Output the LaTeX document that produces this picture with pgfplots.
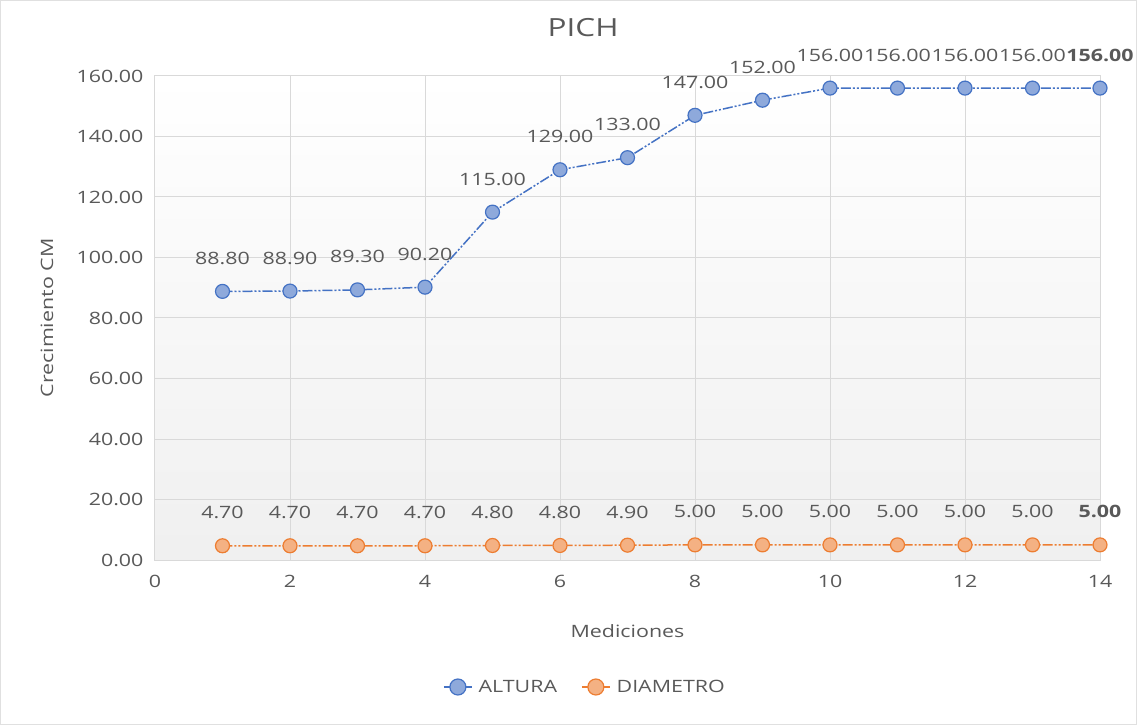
\documentclass[border=0pt]{standalone}
\usepackage{pgfplots}
\pgfplotsset{compat=1.18}
\usepackage{fontspec}
\setmainfont[FakeStretch=1.26]{Open Sans}
\definecolor{tgray}{HTML}{595959}
\definecolor{blu}{HTML}{4472C4}
\definecolor{bluf}{HTML}{8EA9DB}
\definecolor{ora}{HTML}{ED7D31}
\definecolor{oraf}{HTML}{F4B183}
\definecolor{gridc}{HTML}{D9D9D9}
\begin{document}
\begin{tikzpicture}
\begin{axis}[
  at={(0,0)}, anchor=south west,
  scale only axis, width=945pt, height=484pt,
  xmin=0, xmax=14, ymin=0, ymax=160,
  xtick={0,2,...,14}, ytick={0,20,...,160},
  grid=major, major grid style={draw=gridc, line width=1pt},
  axis line style={draw=gridc, line width=1pt},
  major tick length=0pt, tick style={draw=none},
  axis background/.style={shade, top color=white, bottom color=black!6},
  font=\fontsize{17}{20}\selectfont,
  every tick label/.append style={text=tgray},
  xticklabel style={yshift=-12pt},
  yticklabel style={xshift=-8pt, /pgf/number format/.cd, fixed, fixed zerofill, precision=2},
  /pgf/number format/assume math mode=true,
  xticklabel={\pgfmathprintnumber[assume math mode=true]{\tick}},
  title={PICH},
  title style={at={(axis description cs:0.453,1.088)}, anchor=center, text=tgray, font=\fontsize{25}{28}\selectfont},
  xlabel={Mediciones},
  ylabel={Crecimiento CM},
  xlabel style={at={(axis description cs:0.5,-0.1467)}, anchor=center, text=tgray},
  ylabel style={at={(axis description cs:-0.1143,0.5)}, anchor=center, text=tgray},
  legend style={at={(axis description cs:0.455,-0.2624)}, anchor=center, draw=none, fill=none,
    legend columns=2, text=tgray, /tikz/every even column/.append style={column sep=22pt},
    /tikz/every odd column/.append style={column sep=4pt}},
  legend image code/.code={\draw[mark repeat=2,mark phase=2, mark size=8pt] plot coordinates {(0pt,0pt)(14pt,0pt)(28pt,0pt)};},
  point meta=explicit symbolic,
  nodes near coords,
  nodes near coords align={center},
  every node near coord/.append style={text=tgray, yshift=33pt, font=\fontsize{17}{20}\selectfont},
  clip=false,
]
\addplot[color=blu, line width=1.5pt, dash pattern=on 10pt off 2pt on 2pt off 2pt on 2pt off 2pt,
  mark=*, mark size=7pt, mark options={solid, draw=blu, fill=bluf, line width=1.2pt}]
  coordinates {
  (1,88.8)[88.80] (2,88.9)[88.90] (3,89.3)[89.30] (4,90.2)[90.20] (5,115)[115.00]
  (6,129)[129.00] (7,133)[133.00] (8,147)[147.00] (9,152)[152.00] (10,156)[156.00]
  (11,156)[156.00] (12,156)[156.00] (13,156)[156.00] (14,156)[\textbf{156.00}]
  };
\addlegendentry{ALTURA}
\addplot[color=ora, line width=1.5pt, dash pattern=on 10pt off 2pt on 2pt off 2pt on 2pt off 2pt,
  mark=*, mark size=7pt, mark options={solid, draw=ora, fill=oraf, line width=1.2pt}]
  coordinates {
  (1,4.7)[4.70] (2,4.7)[4.70] (3,4.7)[4.70] (4,4.7)[4.70] (5,4.8)[4.80]
  (6,4.8)[4.80] (7,4.9)[4.90] (8,5)[5.00] (9,5)[5.00] (10,5)[5.00]
  (11,5)[5.00] (12,5)[5.00] (13,5)[5.00] (14,5)[\textbf{5.00}]
  };
\addlegendentry{DIAMETRO}
\end{axis}
\draw[black!12, line width=1pt] (-154.5pt,-164.5pt) rectangle (981.5pt,559.5pt);
\end{tikzpicture}
\end{document}
